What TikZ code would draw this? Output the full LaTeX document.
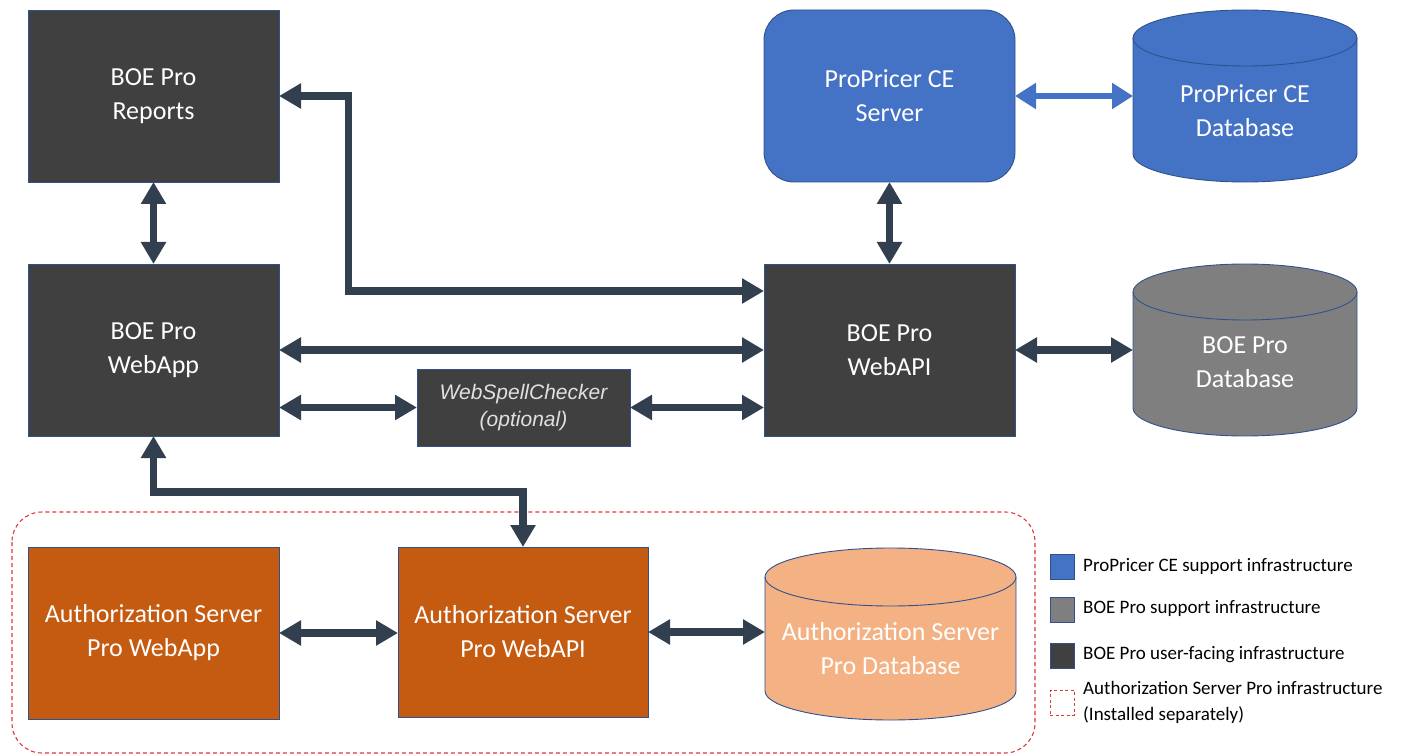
\documentclass[tikz,border=0pt]{standalone}
\usepackage{fontspec}
\setmainfont{Carlito}
\newfontfamily\arialfont{Liberation Sans}
\usetikzlibrary{arrows.meta,calc}
\definecolor{darkbox}{HTML}{404040}
\definecolor{bordc}{HTML}{2F528F}
\definecolor{arrowc}{HTML}{323F4F}
\definecolor{bluec}{HTML}{4472C4}
\definecolor{grayc}{HTML}{7F7F7F}
\definecolor{orangec}{HTML}{C55A11}
\definecolor{lorangec}{HTML}{F4B183}
\definecolor{dashred}{HTML}{E0373C}
\newcommand\dbcyl[9]{%
  \pgfmathsetmacro\rxx{(#4-#2)/2}%
  \draw[draw=bordc, line width=0.9pt, fill=#7] (#2,#3+#6) -- (#2,#5-#6) arc(180:360:\rxx pt and #6 pt) -- (#4,#3+#6) arc(0:180:\rxx pt and #6 pt) -- cycle;
  \draw[draw=bordc, line width=0.9pt] (#2,#3+#6) arc(180:360:\rxx pt and #6 pt);
  \node[lbl, minimum width={#4-#2}, minimum height=60] (#1) at ({(#2+#4)/2},#8) {#9};
}
\begin{document}
\begin{tikzpicture}[x=1pt, y=-1pt,
  lbl/.style={text=white, align=center, font=\fontsize{26}{34}\selectfont, inner sep=0pt, outer sep=0pt},
  box/.style={lbl, draw=bordc, line width=0.9pt, minimum width=251, minimum height=172},
  arr/.style={draw=arrowc, line width=7.5pt, arrows={Triangle[width=24pt,length=22pt]-Triangle[width=24pt,length=22pt]}},
  barr/.style={draw=bluec, line width=5.5pt, arrows={Triangle[width=25pt,length=21pt]-Triangle[width=25pt,length=21pt]}},
  legsq/.style={draw=bordc, line width=0.8pt, minimum width=24, minimum height=25, inner sep=0pt},
  legtxt/.style={anchor=west, align=left, font=\fontsize{19}{26}\selectfont, text=black, inner sep=0pt}
]
\useasboundingbox (0,0) rectangle (1403,754);

% dashed group
\draw[dashred, dashed, dash pattern=on 4pt off 3pt, line width=1.1pt, rounded corners=30] (12,512) rectangle (1035,753);

% boxes
\node[box, fill=darkbox] (rep) at (153.5,96) {\raisebox{-2pt}{\begin{tabular}{@{}c@{}}BOE Pro\\Reports\end{tabular}}};
\node[box, fill=darkbox] (webapp) at (153.5,350) {BOE Pro\\WebApp};
\node[box, fill=darkbox] (webapi) at (889.5,350) {BOE Pro\\WebAPI};
\node[box, fill=bluec, rounded corners=30] (pcs) at (889.5,96) {ProPricer CE\\Server};
\node[lbl, draw=bordc, line width=0.9pt, fill=darkbox, minimum width=213, minimum height=77, text=white!88!black, font=\arialfont\itshape\fontsize{21}{27}\selectfont] (wsc) at (523.5,407.5) {WebSpellChecker\\(optional)};
\node[box, fill=orangec] (awa) at (153.5,633) {Authorization Server\\Pro WebApp};
\node[box, fill=orangec, minimum width=250, minimum height=170] (aapi) at (523,632) {Authorization Server\\Pro WebAPI};

% cylinders
\dbcyl{pcdb}{1133}{10}{1357}{182}{28}{bluec}{110.5}{ProPricer CE\\Database}
\dbcyl{bdb}{1133}{264}{1357}{436}{28}{grayc}{362.5}{BOE Pro\\Database}
\dbcyl{adb}{765}{548}{1016}{720}{29}{lorangec}{649}{Authorization Server\\Pro Database}

% connectors
\coordinate (k1) at (348.5,291);
\coordinate (k2) at (340,492);
\draw[arr] (rep.south) -- (webapp.north);
\draw[arr] (rep.east) -| (k1) -- (k1 -| webapi.west);
\draw[arr] (webapp.east) -- (webapi.west);
\draw[arr] (wsc.west -| webapp.east) -- (wsc.west);
\draw[arr] (wsc.east) -- (wsc.east -| webapi.west);
\draw[arr] (pcs.south) -- (webapi.north);
\draw[barr] (pcs.east) -- (pcs.east -| pcdb.west);
\draw[arr] (webapi.east) -- (webapi.east -| bdb.west);
\draw[arr] (webapp.south) |- (k2) -| (aapi.north);
\draw[arr] (awa.east) -- (awa.east -| aapi.west);
\draw[arr] (aapi.east) -- (aapi.east -| adb.west);

% legend
\node[legsq, fill=bluec] (l1) at (1062,567) {};
\node[legsq, fill=grayc] (l2) at (1062,609.5) {};
\node[legsq, fill=darkbox] (l3) at (1062,655.5) {};
\node[legsq, draw=dashred, dashed, dash pattern=on 3pt off 2.5pt, line width=1pt] (l4) at (1062,702.5) {};
\node[legtxt] (t1) at (1083,566) {ProPricer CE support infrastructure};
\node[legtxt] (t2) at (1083,608.5) {BOE Pro support infrastructure};
\node[legtxt] (t3) at (1083,654.5) {BOE Pro user-facing infrastructure};
\node[legtxt] (t4) at (1083,702.5) {Authorization Server Pro infrastructure\\(Installed separately)};
\end{tikzpicture}
\end{document}
